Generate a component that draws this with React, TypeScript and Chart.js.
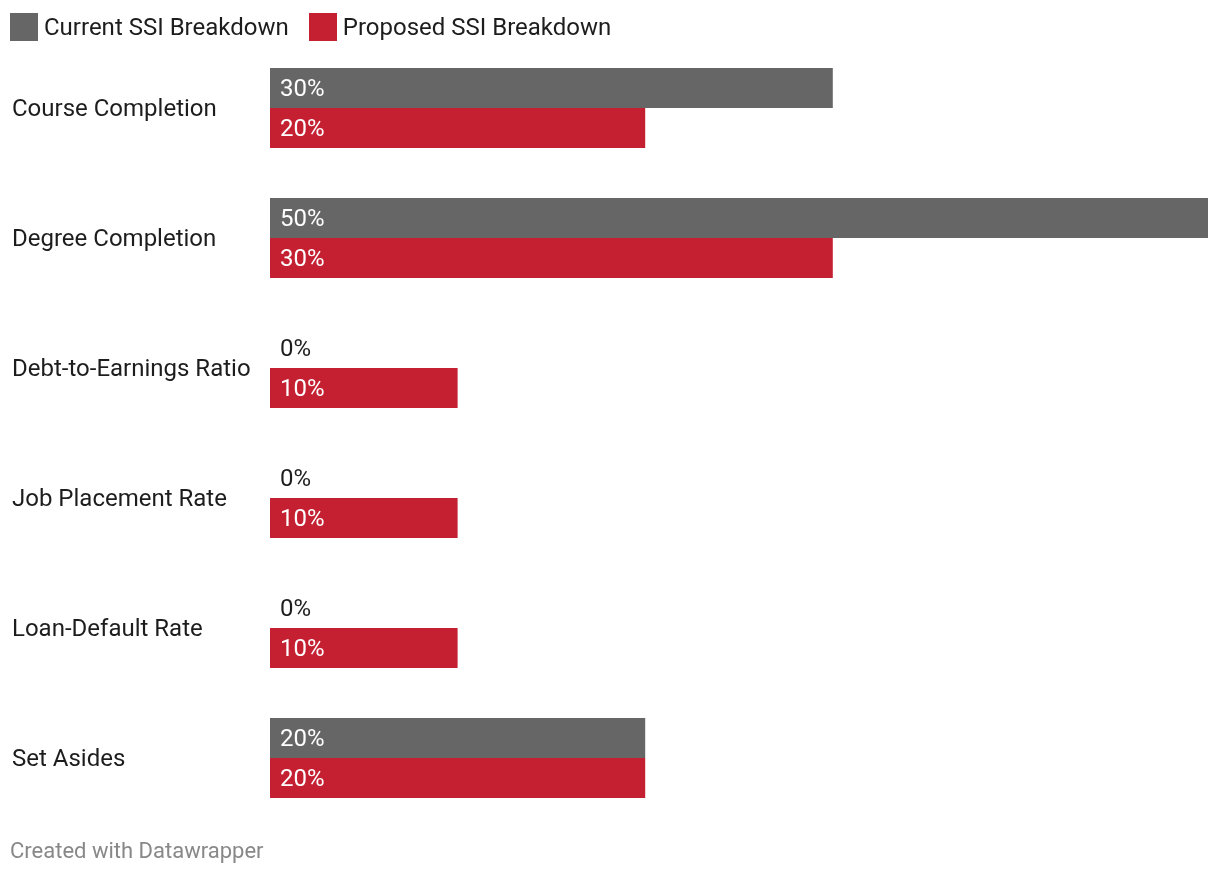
import React, { useEffect, useRef } from "react";
import { Chart, registerables } from "chart.js";

Chart.register(...registerables);

const categories = [
  "Course Completion",
  "Degree Completion",
  "Debt-to-Earnings Ratio",
  "Job Placement Rate",
  "Loan-Default Rate",
  "Set Asides",
];
const currentValues = [30, 50, 0, 0, 0, 20];
const proposedValues = [20, 30, 10, 10, 10, 20];
const seriesNames = ["Current SSI Breakdown", "Proposed SSI Breakdown"];
const seriesColors = ["#666666", "#c42032"];

const FONT = "Roboto, 'Noto Sans', sans-serif";

export default function App() {
  const ref = useRef<HTMLCanvasElement | null>(null);

  useEffect(() => {
    document.body.style.margin = "0";
    const canvas = ref.current;
    if (!canvas) return;

    const labelsPlugin = {
      id: "customLabels",
      afterDatasetsDraw(chart: any) {
        const ctx = chart.ctx;
        const yScale = chart.scales.y;
        ctx.save();
        ctx.font = `24px ${FONT}`;
        ctx.textBaseline = "middle";
        ctx.textAlign = "left";
        ctx.fillStyle = "#1d1d1d";
        categories.forEach((c, i) => {
          ctx.fillText(c, 12, yScale.getPixelForValue(i) + 2);
        });
        chart.data.datasets.forEach((ds: any, di: number) => {
          const meta = chart.getDatasetMeta(di);
          meta.data.forEach((bar: any, i: number) => {
            const v = ds.data[i];
            ctx.fillStyle = v > 0 ? "#ffffff" : "#1d1d1d";
            ctx.fillText(`${v}%`, chart.chartArea.left + 10, bar.y + 2);
          });
        });
        ctx.restore();
      },
    };

    const chart = new Chart(canvas, {
      type: "bar",
      data: {
        labels: categories,
        datasets: [
          {
            label: seriesNames[0],
            data: currentValues,
            backgroundColor: seriesColors[0],
            categoryPercentage: 80 / 130,
            barPercentage: 1,
          },
          {
            label: seriesNames[1],
            data: proposedValues,
            backgroundColor: seriesColors[1],
            categoryPercentage: 80 / 130,
            barPercentage: 1,
          },
        ],
      },
      options: {
        indexAxis: "y",
        animation: false,
        responsive: false,
        maintainAspectRatio: false,
        layout: { padding: { left: 270, right: 12, top: 43, bottom: 53 } },
        scales: {
          x: { display: false, min: 0, max: 50 },
          y: { display: false },
        },
        plugins: {
          legend: { display: false },
          tooltip: { enabled: false },
        },
      },
      plugins: [labelsPlugin],
    });
    return () => chart.destroy();
  }, []);

  return (
    <div style={{ position: "relative", width: 1220, height: 876, fontFamily: FONT }}>
      <canvas ref={ref} width={1220} height={876} style={{ position: "absolute", left: 0, top: 0 }} />
      <div
        style={{
          position: "absolute",
          left: 10,
          top: 13,
          display: "flex",
          alignItems: "center",
          fontSize: 24,
          color: "#1d1d1d",
          height: 28,
        }}
      >
        {seriesNames.map((n, i) => (
          <div key={n} style={{ display: "flex", alignItems: "center", marginRight: 20 }}>
            <span style={{ display: "inline-block", width: 28, height: 28, background: seriesColors[i], marginRight: 6 }} />
            <span>{n}</span>
          </div>
        ))}
      </div>
      <div
        style={{
          position: "absolute",
          left: 10,
          top: 837,
          fontSize: 22,
          color: "#888888",
          lineHeight: "28px",
        }}
      >
        Created with Datawrapper
      </div>
    </div>
  );
}
